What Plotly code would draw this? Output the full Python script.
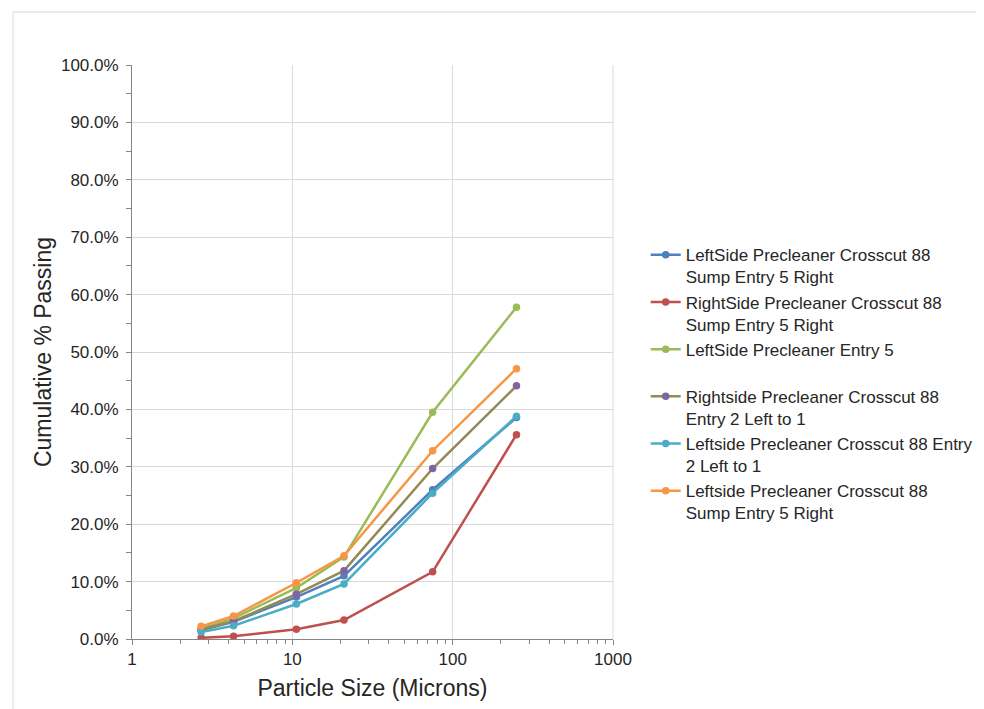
import plotly.graph_objects as go

sizes = [2.7, 4.3, 10.6, 21, 75, 250]

series_names = [
    "LeftSide Precleaner Crosscut 88<br>Sump Entry 5 Right",
    "RightSide Precleaner Crosscut 88<br>Sump Entry 5 Right",
    "LeftSide Precleaner Entry 5<br> ",
    "Rightside Precleaner Crosscut 88<br>Entry 2 Left to 1",
    "Leftside Precleaner Crosscut 88 Entry<br>2 Left to 1",
    "Leftside Precleaner Crosscut 88<br>Sump Entry 5 Right",
]

left_sump = [1.5, 3.0, 7.3, 11.0, 26.0, 38.6]
right_sump = [0.2, 0.5, 1.7, 3.3, 11.7, 35.6]
left_entry5 = [1.8, 3.6, 8.9, 14.3, 39.5, 57.8]
right_entry2 = [1.7, 3.1, 7.8, 11.9, 29.7, 44.1]
left_entry2 = [1.2, 2.3, 6.1, 9.6, 25.4, 38.8]
left_sump2 = [2.2, 4.0, 9.8, 14.5, 32.8, 47.1]

values = [left_sump, right_sump, left_entry5, right_entry2, left_entry2, left_sump2]
line_colors = ["#4F81BD", "#C0504D", "#9BBB59", "#948A54", "#4BACC6", "#F79646"]
marker_colors = ["#4F81BD", "#C0504D", "#9BBB59", "#8064A2", "#4BACC6", "#F79646"]

y_ticks = [0, 10, 20, 30, 40, 50, 60, 70, 80, 90, 100]
y_labels = [f"{v:.1f}%" for v in y_ticks]
x_ticks = [1, 10, 100, 1000]
x_labels = ["1", "10", "100", "1000"]

fig = go.Figure()
for name, vals, lc, mc in zip(series_names, values, line_colors, marker_colors):
    fig.add_trace(go.Scatter(
        x=sizes, y=vals, name=name, mode="lines+markers",
        line=dict(color=lc, width=2.5),
        marker=dict(color=mc, size=7.5),
    ))

font = "Liberation Sans, Arial, sans-serif"
# page has an 8px body margin, so compensate
fig.update_layout(
    width=976, height=701,
    margin=dict(l=124, r=371, t=57, b=70, autoexpand=False),
    paper_bgcolor="white", plot_bgcolor="white",
    font=dict(family=font, color="#262626"),
    showlegend=True,
    legend=dict(
        x=1.068, xanchor="left", y=0.70, yanchor="top",
        font=dict(size=17, family=font, color="#262626"),
        valign="top", itemwidth=30, tracegroupgap=0,
        bgcolor="rgba(0,0,0,0)",
    ),
    shapes=[dict(type="rect", xref="paper", yref="paper",
                 x0=(13 - 132) / 481, x1=(990 - 132) / 481,
                 y0=(639 - 720) / 574, y1=(639 - 12) / 574,
                 line=dict(color="#d9d9d9", width=1), layer="below")],
)

fig.update_xaxes(
    type="log", range=[0, 3],
    tickvals=x_ticks, ticktext=x_labels,
    tickfont=dict(size=17, family=font, color="#262626"),
    showgrid=True, gridcolor="#d9d9d9", gridwidth=1,
    showline=True, linecolor="#868686", linewidth=1,
    ticks="outside", ticklen=5, tickcolor="#868686",
    minor=dict(ticks="outside", ticklen=4, tickcolor="#868686", showgrid=False,
               tickvals=[m * d for d in [1, 10, 100] for m in range(2, 10)]),
    zeroline=False,
    title=dict(text="Particle Size (Microns)", font=dict(size=23, family=font, color="#262626"), standoff=11),
)
fig.update_yaxes(
    range=[0, 100],
    tickvals=y_ticks, ticktext=y_labels,
    tickfont=dict(size=17, family=font, color="#262626"),
    showgrid=True, gridcolor="#d9d9d9", gridwidth=1,
    showline=True, linecolor="#868686", linewidth=1,
    ticks="outside", ticklen=5, tickcolor="#868686", ticklabelstandoff=4,
    minor=dict(ticks="outside", ticklen=5, tickcolor="#868686", dtick=5, showgrid=False),
    zeroline=False,
    title=dict(text="Cumulative % Passing", font=dict(size=23, family=font, color="#262626"), standoff=2),
)

fig.add_shape(type="line", xref="paper", yref="paper", x0=1, x1=1, y0=0, y1=1,
              line=dict(color="#d9d9d9", width=1))

fig.write_html("out.html")
